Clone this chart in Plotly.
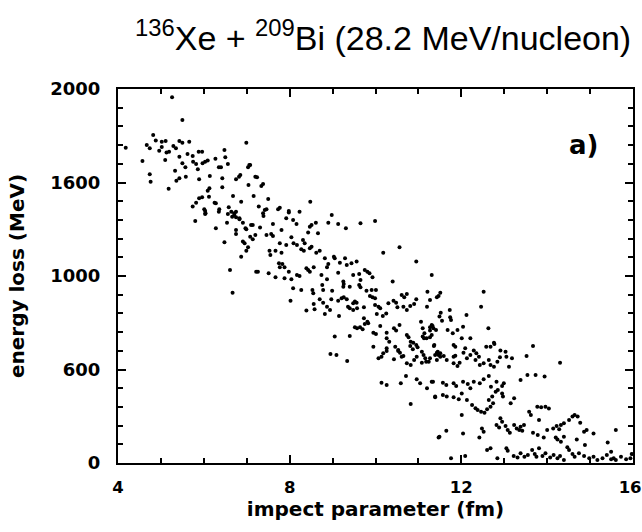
import plotly.graph_objects as go

# (impact parameter [fm], energy loss [MeV]), grouped by region
upper_band = [
    (5.26, 1956), (5.50, 1834), (4.18, 1686), (4.57, 1615), (4.82, 1754), (4.67, 1700),
    (4.74, 1683), (4.88, 1724), (5.02, 1718), (5.11, 1722), (5.02, 1690), (4.96, 1670),
    (5.13, 1660), (5.19, 1665), (5.10, 1620), (5.29, 1695), (5.35, 1683), (5.43, 1722),
    (5.50, 1713), (5.66, 1718), (5.43, 1638), (5.50, 1603), (5.57, 1581), (5.62, 1652),
    (5.74, 1642), (5.88, 1665), (5.96, 1665), (5.75, 1611), (5.82, 1599), (5.86, 1571),
    (6.03, 1611), (6.09, 1617), (5.97, 1603), (5.33, 1563), (4.74, 1544), (4.76, 1504),
    (5.43, 1523), (5.36, 1510), (5.58, 1531), (5.18, 1467), (5.89, 1517), (6.14, 1535),
    (6.27, 1627), (6.35, 1581), (6.40, 1581), (6.48, 1674), (6.50, 1635), (6.56, 1599),
    (6.43, 1523), (6.43, 1474), (6.13, 1469), (6.09, 1456), (5.89, 1416), (5.96, 1421),
    (5.82, 1392), (5.74, 1371), (6.12, 1424), (6.25, 1392), (6.28, 1389), (6.01, 1357),
    (6.04, 1335), (6.36, 1357), (6.68, 1428), (6.82, 1531), (6.85, 1540), (6.75, 1517),
    (6.99, 1713), (7.06, 1594), (7.03, 1581), (7.04, 1487), (7.16, 1428), (7.24, 1528),
    (7.28, 1371), (6.58, 1367), (6.64, 1344), (6.71, 1326), (6.75, 1314), (6.83, 1309),
    (7.08, 1594), (7.20, 1531), (7.34, 1481), (7.38, 1492), (6.87, 1397), (7.50, 1412),
    (7.42, 1353), (7.46, 1357), (7.38, 1335), (7.39, 1321), (7.73, 1357), (7.77, 1365),
    (7.98, 1339), (8.23, 1344), (8.48, 1397), (7.92, 1309), (8.08, 1300), (8.98, 1326),
]

upper_mid = [
    (5.80, 1294), (6.03, 1332), (6.03, 1348), (6.28, 1255), (6.35, 1344), (6.48, 1180),
    (6.54, 1285), (6.56, 1332), (6.66, 1317), (6.71, 1335), (6.75, 1344), (6.75, 1246),
    (6.75, 1225), (6.83, 1303), (6.91, 1285), (6.99, 1250), (6.91, 1184), (6.95, 1175),
    (7.10, 1273), (7.14, 1273), (7.08, 1210), (7.14, 1196), (7.20, 1219), (7.03, 1154),
    (6.99, 1135), (6.87, 1103), (6.61, 1032), (7.22, 1023), (6.67, 911),
    (6.97, 1255), (7.31, 1260), (7.61, 1278), (7.98, 1348), (8.16, 1278), (8.51, 1273),
    (8.61, 1285), (8.47, 1264), (8.90, 1285), (9.13, 1278), (9.31, 1255), (9.65, 1282),
    (9.99, 1294), (7.46, 1219), (7.57, 1225), (7.61, 1214), (7.81, 1246), (8.04, 1207),
    (8.09, 1175), (8.17, 1166), (8.31, 1193), (8.35, 1175), (8.43, 1232), (8.66, 1228),
    (7.92, 1166), (7.77, 1175), (7.53, 1135), (7.67, 1135), (7.55, 1112), (7.81, 1125),
    (8.27, 1143), (8.33, 1135), (8.47, 1148), (8.51, 1157), (8.62, 1125), (8.70, 1135),
    (8.82, 1095), (9.03, 1103), (9.05, 1095), (9.17, 1071), (9.29, 1095), (8.90, 1064),
    (8.87, 1047), (9.44, 1068), (9.56, 1077), (9.33, 1059), (10.18, 1125), (10.56, 1154),
    (10.95, 1077), (11.31, 1005), (11.51, 911), (7.75, 1068), (7.83, 1064), (7.88, 1047),
    (7.98, 1023), (7.77, 1047), (7.26, 1023), (7.51, 1015), (7.67, 993), (7.88, 988),
    (8.04, 982), (8.17, 1005), (8.23, 1000), (8.39, 1041), (8.43, 1032), (8.47, 1023),
    (8.56, 1047), (8.74, 1005), (8.87, 982), (9.13, 1018), (9.25, 970), (9.26, 957),
    (9.48, 1005), (9.62, 1011), (9.75, 1032), (9.81, 1023), (9.86, 1015), (9.65, 979),
    (9.93, 993), (10.40, 970),
]

middle_band = [
    (8.08, 934), (8.27, 925), (8.53, 925), (8.55, 908), (8.76, 952), (8.78, 925),
    (8.99, 921), (9.25, 943), (9.40, 943), (9.62, 952), (9.65, 940), (9.79, 921),
    (9.91, 925), (10.01, 925), (8.02, 868), (8.39, 815), (8.56, 850), (8.58, 822),
    (8.70, 876), (8.78, 857), (8.87, 836), (8.94, 818), (8.97, 876), (9.13, 868),
    (9.21, 881), (9.26, 886), (9.33, 876), (9.36, 836), (9.40, 827), (9.48, 854),
    (9.52, 863), (9.56, 857), (9.48, 818), (9.57, 827), (9.73, 833), (9.87, 893),
    (9.93, 886), (9.99, 881), (9.99, 845), (10.07, 836), (10.11, 827), (10.03, 797),
    (10.17, 786), (10.25, 800), (10.30, 854), (10.42, 868), (10.48, 857), (10.51, 833),
    (10.61, 898), (10.67, 886), (10.73, 904), (10.65, 836), (10.73, 818), (10.81, 840),
    (10.90, 850), (10.95, 876), (11.21, 916), (11.27, 872), (11.47, 893), (8.82, 797),
    (9.15, 786), (9.73, 774), (9.83, 747), (9.52, 726), (9.57, 720), (9.64, 726),
    (9.70, 715), (9.75, 743), (9.81, 756), (9.95, 697), (10.01, 690), (10.11, 733),
    (10.26, 697), (10.26, 667), (10.32, 649), (10.43, 720), (10.48, 708), (10.56, 738),
    (10.73, 685), (10.77, 672), (10.82, 649), (10.88, 643), (10.95, 631), (11.10, 676),
    (11.13, 667), (11.19, 667), (11.27, 672), (11.31, 685), (11.10, 720), (11.27, 726),
    (11.33, 733), (10.26, 613), (10.18, 587), (10.14, 568), (10.46, 622), (10.53, 604),
    (10.57, 590), (10.65, 572), (10.81, 626), (10.87, 608), (10.98, 619), (11.08, 595),
    (11.12, 578), (11.36, 626), (11.45, 595), (9.95, 622), (9.05, 676), (9.40, 679),
    (8.95, 583), (9.09, 578),
    (11.43, 886), (11.20, 836), (12.52, 916), (12.46, 836), (11.73, 818), (11.52, 804),
    (11.49, 783), (11.55, 761), (11.74, 779), (11.76, 765), (12.12, 791), (11.06, 756),
    (11.14, 694), (11.31, 738), (11.35, 720), (11.27, 708), (11.41, 711), (11.68, 711),
    (11.80, 694), (11.91, 711), (12.04, 729), (11.37, 631), (11.82, 631), (11.86, 622),
    (12.01, 667), (12.21, 667), (12.09, 613), (12.05, 590), (12.29, 601), (12.35, 587),
    (12.41, 568), (12.58, 622), (12.68, 622), (12.76, 643), (12.77, 636), (12.63, 720),
    (12.91, 601), (13.05, 568), (13.18, 560), (13.52, 572), (13.67, 626), (11.43, 590),
    (11.47, 578), (11.51, 568), (11.59, 572), (11.82, 568), (11.86, 574),
]

lower_band = [
    (9.34, 545), (10.07, 560), (10.26, 599), (10.43, 555), (10.61, 568), (10.53, 599),
    (10.73, 533), (10.82, 524), (10.90, 551), (10.96, 568), (11.08, 536), (11.16, 560),
    (11.24, 542), (11.43, 551), (10.14, 429), (10.26, 417), (10.59, 426), (10.71, 465),
    (10.96, 448), (11.04, 426), (11.20, 400), (11.34, 435), (10.82, 316), (11.39, 351),
    (11.49, 141), (11.18, 542), (11.27, 560), (11.39, 578), (11.51, 587), (11.66, 551),
    (11.82, 533), (11.91, 519), (11.96, 536), (12.13, 560), (12.21, 578), (12.33, 551),
    (12.43, 524), (12.52, 533), (12.64, 551), (12.68, 524), (12.76, 515), (12.84, 542),
    (12.90, 565), (13.03, 595), (13.11, 515), (14.30, 536), (13.73, 471), (13.94, 462),
    (13.38, 444), (12.99, 426), (12.95, 412), (12.82, 435), (11.31, 435), (11.57, 429),
    (11.65, 417), (11.82, 426), (11.88, 412), (12.04, 435), (12.15, 422), (12.21, 400),
    (12.29, 435), (12.43, 426), (12.52, 448), (12.64, 465), (12.69, 408), (12.80, 381),
    (12.85, 390), (12.95, 372), (12.97, 355), (11.39, 355), (11.57, 364), (11.66, 355),
    (11.82, 351), (11.94, 341), (12.01, 372), (12.13, 337), (12.25, 310), (12.33, 293),
    (12.38, 283), (12.46, 274), (12.54, 269), (12.60, 287), (12.68, 301), (12.74, 319),
    (12.64, 337), (12.72, 355), (13.15, 319), (13.23, 346), (13.54, 471),
]

tail = [
    (12.91, 239), (12.95, 221), (13.58, 274), (13.62, 257), (13.77, 301), (13.86, 298),
    (13.96, 301), (14.04, 292), (13.81, 230), (12.01, 257), (12.48, 185), (12.42, 137),
    (12.52, 167), (12.82, 203), (12.88, 190), (13.03, 198), (13.08, 176), (13.13, 162),
    (13.23, 203), (13.29, 185), (13.35, 176), (13.38, 194), (13.42, 172), (13.46, 203),
    (11.65, 172), (11.47, 137), (12.04, 158), (13.67, 162), (13.78, 150), (13.92, 137),
    (14.00, 176), (14.14, 185), (14.22, 198), (14.28, 180), (14.32, 203), (14.39, 212),
    (14.20, 137), (14.24, 126), (14.32, 114), (14.39, 141), (14.47, 84), (14.51, 230),
    (14.59, 248), (14.64, 257), (14.71, 248), (14.77, 215), (14.86, 167), (14.92, 176),
    (15.08, 158), (14.69, 126), (14.88, 96), (15.41, 109), (15.60, 176), (15.49, 60),
    (15.55, 25), (12.60, 70), (12.68, 79), (12.84, 25), (11.76, 25), (12.09, 37),
    (13.05, 79), (13.08, 66), (13.22, 37), (13.31, 30), (13.38, 52), (13.47, 34),
    (13.55, 43), (13.65, 70), (13.71, 48), (13.75, 34), (13.81, 79), (13.89, 37),
    (13.96, 52), (14.07, 30), (14.15, 43), (14.24, 25), (14.30, 37), (14.39, 16),
    (14.51, 70), (14.59, 48), (14.64, 34), (14.74, 52), (14.86, 37), (14.98, 25),
    (15.08, 34), (15.17, 16), (15.29, 25), (15.39, 43), (15.49, 20), (15.60, 16),
    (15.72, 34), (15.84, 20), (15.94, 25), (15.97, 48),
]

y_tickvals = [0, 500, 1000, 1500, 2000]
y_ticktext = ["0", "600", "1000", "1600", "2000"]   # as printed on the original axis
x_tickvals = [4, 8, 12, 16]
x_ticktext = ["4", "8", "12", "16\u00a0"]   # trailing nbsp nudges the last label off the edge

points = upper_band + upper_mid + middle_band + lower_band + tail
b = [p[0] for p in points]
eloss = [p[1] for p in points]

fig = go.Figure()
fig.add_trace(go.Scatter(
    x=b, y=eloss, mode="markers",
    marker=dict(size=4, color="black", line=dict(width=0)),
    hoverinfo="x+y",
))

axis_common = dict(
    showline=True, linewidth=2, linecolor="black", mirror="allticks",
    ticks="inside", ticklen=8, tickwidth=2, tickcolor="black",
    showgrid=False, zeroline=False, automargin=False,
)

fig.update_xaxes(
    range=[4, 16], tickvals=x_tickvals, ticktext=x_ticktext,
    ticklabelstandoff=8, ticklabeloverflow="allow",
    tickfont=dict(family="DejaVu Sans", size=16.5, color="black", weight="bold"),
    minor=dict(dtick=1, tick0=4, ticks="inside", ticklen=5, tickwidth=1.5, tickcolor="black"),
    title=dict(text="<b>impect parameter (fm)</b>", standoff=5,
               font=dict(family="DejaVu Sans", size=20, color="black")),
    **axis_common,
)
fig.update_yaxes(
    range=[0, 2000], tickvals=y_tickvals, ticktext=y_ticktext, ticklabelstandoff=12,
    tickfont=dict(family="DejaVu Sans", size=18, color="black", weight="bold"),
    minor=dict(dtick=100, tick0=0, ticks="inside", ticklen=5, tickwidth=1.5, tickcolor="black"),
    title=dict(text="<b>energy loss (MeV)</b>", standoff=20,
               font=dict(family="DejaVu Sans", size=20, color="black")),
    **axis_common,
)

fig.add_annotation(
    text="<sup>136</sup>Xe + <sup>209</sup>Bi (28.2 MeV/nucleon)",
    xref="paper", yref="paper", x=0.515, y=1.08, xanchor="center", yanchor="bottom",
    showarrow=False, font=dict(family="Liberation Sans", size=34, color="black"),
)
fig.add_annotation(
    text="<b>a)</b>", x=14.85, y=1700, showarrow=False,
    font=dict(family="DejaVu Sans", size=26, color="black"),
)

fig.update_layout(
    width=642, height=532,
    margin=dict(l=118, r=9, t=89, b=69),
    paper_bgcolor="white", plot_bgcolor="white",
    showlegend=False,
)

# drop the browser's default 8px body margin so the figure sits at the page origin
fig.write_html("out.html", config={"displayModeBar": False},
               post_script="document.body.style.margin='0';")
